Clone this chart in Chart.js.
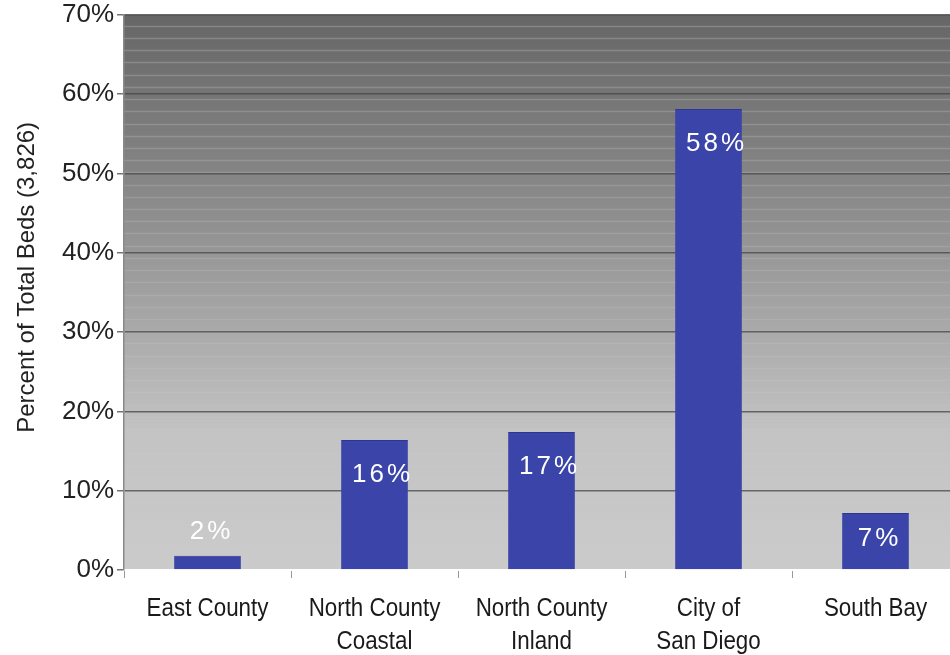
<!DOCTYPE html>
<html>
<head>
<meta charset="utf-8">
<script src="https://cdn.jsdelivr.net/npm/chart.js@4.4.1/dist/chart.umd.min.js"></script>
<style>
  html, body { margin: 0; padding: 0; background: #fff; overflow: hidden; }
  #wrap { width: 960px; height: 655px; }
</style>
</head>
<body>
<div id="wrap"><canvas id="myChart"></canvas></div>
<script>
const regions = [
  "East County",
  ["North County", "Coastal"],
  ["North County", "Inland"],
  ["City of", "San Diego"],
  "South Bay",
];
const percentBeds = [1.8, 16.4, 17.4, 58.1, 7.2];
const valueLabels = ["2%", "16%", "17%", "58%", "7%"];
const yTicks = [0, 10, 20, 30, 40, 50, 60, 70];
const yTitle = "Percent of Total Beds (3,826)";

const FONT = "'Liberation Sans', Arial, sans-serif";

// gradient background with faint stripes behind the plot
const plotBackground = {
  id: "plotBackground",
  beforeDraw: (chart) => {
    const { ctx, chartArea: a } = chart;
    const g = ctx.createLinearGradient(0, a.top, 0, a.bottom);
    g.addColorStop(0, "#666666");
    g.addColorStop(0.3, "#868686");
    g.addColorStop(0.58, "#ababab");
    g.addColorStop(0.75, "#c3c3c3");
    g.addColorStop(1, "#cbcbcb");
    ctx.save();
    ctx.fillStyle = g;
    ctx.fillRect(a.left, a.top, a.right - a.left, a.bottom - a.top);
    const h = a.bottom - a.top;
    ctx.lineWidth = 1.5;
    for (let f = 0.02; f < 0.9; f += 0.022) {
      const alpha = 0.2 * (1 - f);
      ctx.strokeStyle = `rgba(255,255,255,${alpha.toFixed(3)})`;
      const y = Math.round(a.top + f * h) + 0.5;
      ctx.beginPath();
      ctx.moveTo(a.left, y);
      ctx.lineTo(a.right, y);
      ctx.stroke();
    }
    ctx.restore();
  },
};

// value labels, narrow category labels, rotated axis title
const extraText = {
  id: "extraText",
  afterDraw: (chart) => {
    const { ctx, chartArea: a } = chart;
    const meta = chart.getDatasetMeta(0);

    ctx.save();
    ctx.font = "26px " + FONT;
    ctx.fillStyle = "#ffffff";
    ctx.textAlign = "center";
    ctx.textBaseline = "middle";
    if ("letterSpacing" in ctx) ctx.letterSpacing = "3px";
    meta.data.forEach((bar, i) => {
      const v = percentBeds[i];
      let y;
      if (v < 5) y = bar.y - 24;
      else y = Math.min(bar.y + 35, (bar.y + bar.base) / 2 - 2);
      const dx = valueLabels[i].length > 2 ? 8 : 4;
      ctx.fillText(valueLabels[i], bar.x + dx, y);
    });
    ctx.restore();

    // category labels, slightly condensed like the original
    const xScale = chart.scales.x;
    ctx.save();
    ctx.font = "26px " + FONT;
    ctx.fillStyle = "#1a1a1a";
    ctx.textAlign = "center";
    ctx.textBaseline = "middle";
    regions.forEach((label, i) => {
      const x = xScale.getPixelForValue(i);
      const lines = Array.isArray(label) ? label : [label];
      lines.forEach((line, j) => {
        ctx.save();
        ctx.translate(x, a.bottom + 39 + j * 33);
        ctx.scale(0.86, 1);
        ctx.fillText(line, 0, 0);
        ctx.restore();
      });
    });
    ctx.restore();

    ctx.save();
    ctx.font = "24px " + FONT;
    ctx.fillStyle = "#222222";
    ctx.textAlign = "center";
    ctx.textBaseline = "middle";
    ctx.translate(27, (a.top + a.bottom) / 2 - 15);
    ctx.rotate(-Math.PI / 2);
    ctx.fillText(yTitle, 0, 0);
    ctx.restore();
  },
};

const ctx = document.getElementById("myChart").getContext("2d");

new Chart(ctx, {
  type: "bar",
  data: {
    labels: regions,
    datasets: [
      {
        data: percentBeds,
        backgroundColor: "#3b45a9",
        borderColor: "#2e3790",
        borderWidth: { top: 1, left: 0, right: 0, bottom: 0 },
        barPercentage: 0.4,
        categoryPercentage: 1,
      },
    ],
  },
  options: {
    responsive: true,
    maintainAspectRatio: false,
    animation: false,
    layout: { padding: { top: 14, right: 1, left: 0, bottom: 0 } },
    plugins: {
      legend: { display: false },
      tooltip: { enabled: false },
    },
    scales: {
      x: {
        grid: {
          offset: true,
          drawOnChartArea: false,
          drawTicks: true,
          tickLength: 8,
          color: "#999999",
        },
        border: { color: "#ffffff", width: 2 },
        ticks: { display: false },
        afterFit: (scale) => {
          scale.height = 85;
        },
      },
      y: {
        min: 0,
        max: 70,
        afterBuildTicks: (scale) => {
          scale.ticks = yTicks.map((v) => ({ value: v }));
        },
        grid: {
          color: "rgba(70,70,70,0.75)",
          lineWidth: 1.5,
          tickLength: 7,
        },
        border: { color: "#8a8a8a", width: 1.5 },
        ticks: {
          color: "#222222",
          font: { family: FONT, size: 26, lineHeight: 0.9 },
          padding: 3,
          callback: (v) => v + "%",
        },
        afterFit: (scale) => {
          scale.width = 124;
        },
      },
    },
  },
  plugins: [plotBackground, extraText],
});
</script>
</body>
</html>
